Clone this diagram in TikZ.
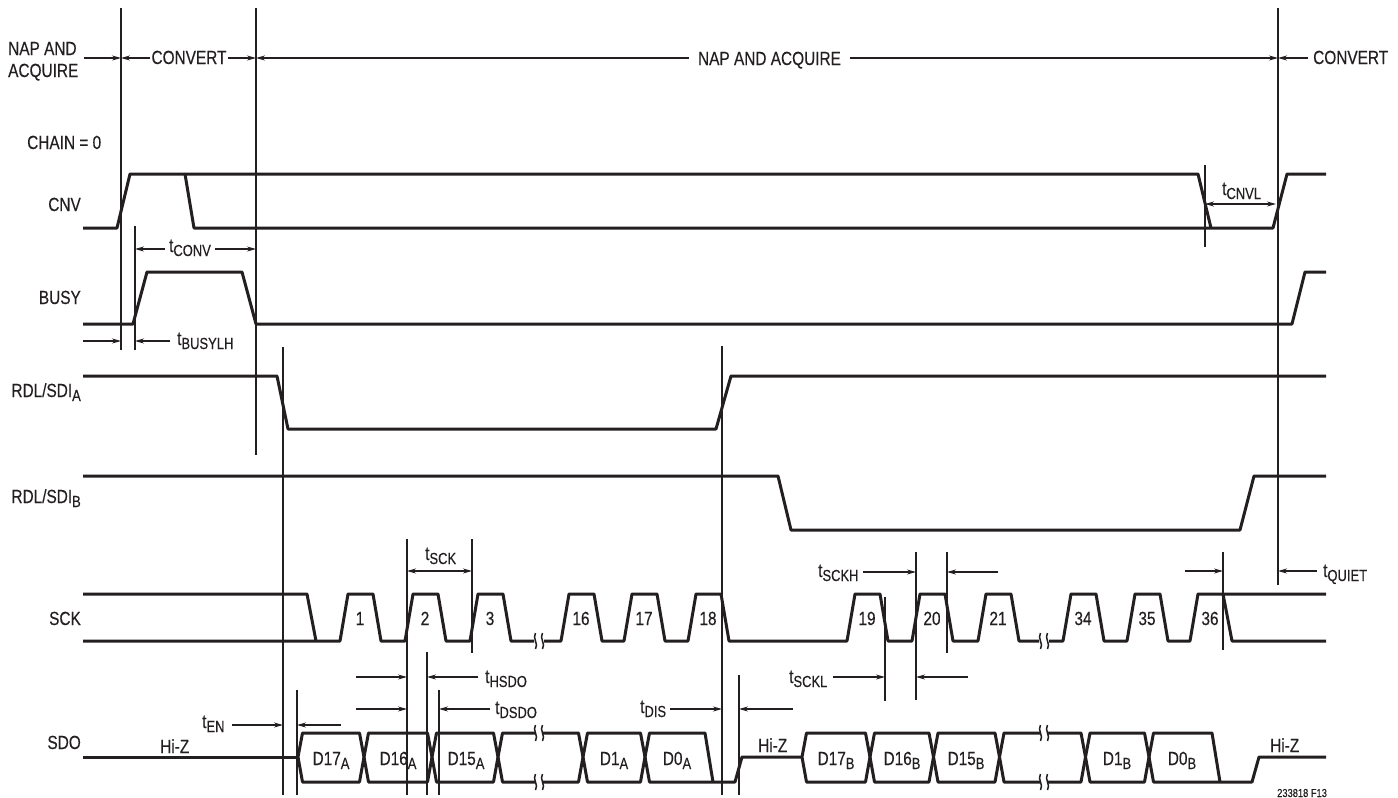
\documentclass[tikz,border=0pt]{standalone}
\usepackage{fontspec}
\setmainfont{Liberation Sans}[FakeStretch=0.81,FakeBold=0.3]
\usetikzlibrary{arrows.meta}
\definecolor{ink}{RGB}{35,31,32}
\newcommand\subfs{\fontsize{16}{16}\selectfont}
\newcommand\lsub[1]{\raisebox{-4pt}{\subfs #1}}
\newcommand\tsub[1]{t\lsub{#1}}
\begin{document}
\begin{tikzpicture}[x=1pt,y=-1pt,
  sig/.style={draw=ink,line width=3pt,line join=round},
  thin/.style={draw=ink,line width=1.1pt},
  dima/.style={thin,-{Stealth[length=9pt,width=5pt]}},
  dimb/.style={thin,{Stealth[length=9pt,width=5pt]}-{Stealth[length=9pt,width=5pt]}},
  lbl/.style={font=\fontsize{19}{22}\selectfont,text=ink,inner sep=0pt},
  brk/.pic={\draw[draw=ink,line width=1.5pt] (-3.5,-8) .. controls (-7,-3) and (0,3) .. (-3.5,8);
            \draw[draw=ink,line width=1.5pt] (3.5,-8) .. controls (0,-3) and (7,3) .. (3.5,8);}]
\fill[white] (0,0) rectangle (1398,798);
\useasboundingbox (0,0) rectangle (1398,798);

% ---------- phase header ----------
\draw[thin] (121,8) -- (121,350);
\draw[thin] (256,8) -- (256,455);
\draw[thin] (1278,8) -- (1278,585);
\node[lbl,anchor=base west] (napa) at (8,55) {NAP AND};
\node[lbl,anchor=base west] (acqa) at (8,77) {ACQUIRE};
\draw[dima] (84,58) -- (121,58);
\draw[dimb] (121,58) -- (256,58);
\node[lbl,anchor=base,fill=white,inner xsep=1.5pt] (conva) at (189,64) {CONVERT};
\draw[dimb] (256,58) -- (1278,58);
\node[lbl,anchor=base,fill=white,inner xsep=9pt] (napb) at (769.5,65) {NAP AND ACQUIRE};
\draw[dima] (1308,58) -- (1278,58);
\node[lbl,anchor=base west] (convb) at (1313,64) {CONVERT};

% ---------- CNV ----------
\node[lbl,anchor=base west] (chain) at (27,149) {CHAIN = 0};
\node[lbl,anchor=base east] (cnv) at (81,211) {CNV};
\draw[sig] (83,228) -- (117,228) -- (130,174) -- (1198,174) -- (1211,228);
\draw[sig] (185,174) -- (194,228) -- (1273,228) -- (1287,174) -- (1326,174);
\draw[thin] (1205,165) -- (1205,247);
\draw[dimb] (1205,204) -- (1276,204);
\node[lbl,anchor=base west] (tcnvl) at (1222,195) {\tsub{CNVL}};

% ---------- BUSY ----------
\node[lbl,anchor=base east] (busy) at (81,304) {BUSY};
\draw[sig] (83,324) -- (133,324) -- (147,272) -- (242,272) -- (256,324) -- (1292,324) -- (1305,272) -- (1326,272);
\draw[thin] (135,226) -- (135,350);
\draw[dimb] (135,249) -- (256,249);
\node[lbl,anchor=base,fill=white,inner xsep=4pt] (tconv) at (190,252) {\tsub{CONV}};
\draw[dima] (83,341) -- (121,341);
\draw[dima] (170,341) -- (135,341);
\node[lbl,anchor=base west] (tbusy) at (177,345) {\tsub{BUSYLH}};

% ---------- RDL/SDI ----------
\node[lbl,anchor=base east] (rdla) at (81,397) {RDL/SDI\lsub{A}};
\draw[sig] (83,376) -- (277,376) -- (288,429) -- (716,429) -- (731,376) -- (1326,376);
\node[lbl,anchor=base east] (rdlb) at (81,503) {RDL/SDI\lsub{B}};
\draw[sig] (83,476) -- (778,476) -- (791,530) -- (1240,530) -- (1254,476) -- (1326,476);

% ---------- SCK ----------
\node[lbl,anchor=base east] (sck) at (81,625) {SCK};
\draw[sig] (83,594) -- (307,594) -- (316,641);
\draw[sig] (83,641)
  -- (340,641) -- (348,594) -- (373,594) -- (381,641)
  -- (405,641) -- (413,594) -- (438,594) -- (446,641)
  -- (470,641) -- (478,594) -- (503,594) -- (511,641) -- (534,641);
\draw[sig] (544,641)
  -- (561,641) -- (569,594) -- (594,594) -- (602,641)
  -- (624,641) -- (632,594) -- (657,594) -- (665,641)
  -- (688,641) -- (696,594) -- (721,594) -- (729,641)
  -- (847,641) -- (855,594) -- (880,594) -- (888,641)
  -- (912,641) -- (920,594) -- (945,594) -- (953,641)
  -- (978,641) -- (986,594) -- (1011,594) -- (1019,641) -- (1039,641);
\draw[sig] (1049,641)
  -- (1063,641) -- (1071,594) -- (1096,594) -- (1104,641)
  -- (1127,641) -- (1135,594) -- (1160,594) -- (1168,641)
  -- (1190,641) -- (1198,594) -- (1326,594);
\draw[sig] (1223,594) -- (1232,641) -- (1326,641);
\pic at (539,641) {brk};
\pic at (1044,641) {brk};
\foreach \r/\n in {340/1,405/2,470/3,561/16,624/17,688/18,847/19,912/20,978/21,1063/34,1127/35,1190/36}
  \node[lbl,anchor=base] (p\n) at (\r+20,625) {\n};

% timing marks on SCK
\draw[thin] (407,539) -- (407,795);
\draw[thin] (472,539) -- (472,653);
\draw[dimb] (407,571) -- (472,571);
\node[lbl,anchor=base west] (tsck) at (425,560) {\tsub{SCK}};
\draw[thin] (916,552) -- (916,700);
\draw[thin] (947,552) -- (947,653);
\draw[dima] (863,572) -- (916,572);
\draw[dima] (998,572) -- (947,572);
\node[lbl,anchor=base west] (tsckh) at (818,577) {\tsub{SCKH}};
\draw[thin] (885,597) -- (885,701);
\draw[dima] (833,677) -- (885,677);
\draw[dima] (968,677) -- (916,677);
\node[lbl,anchor=base west] (tsckl) at (789,683) {\tsub{SCKL}};
\draw[thin] (1223,552) -- (1223,650);
\draw[dima] (1185,571) -- (1223,571);
\draw[dima] (1317,571) -- (1278,571);
\node[lbl,anchor=base west] (tquiet) at (1323,577) {\tsub{QUIET}};

% ---------- SDO timing marks ----------
\draw[thin] (283,347) -- (283,795);
\draw[thin] (297,690) -- (297,795);
\draw[dima] (232,725) -- (283,725);
\draw[dima] (341,725) -- (297,725);
\node[lbl,anchor=base west] (ten) at (202,728) {\tsub{EN}};
\draw[thin] (427,652) -- (427,795);
\draw[dima] (356,677) -- (407,677);
\draw[dima] (478,677) -- (427,677);
\node[lbl,anchor=base west] (thsdo) at (485,683) {\tsub{HSDO}};
\draw[thin] (439,690) -- (439,795);
\draw[dima] (356,709) -- (407,709);
\draw[dima] (490,709) -- (439,709);
\node[lbl,anchor=base west] (tdsdo) at (495,714) {\tsub{DSDO}};
\draw[thin] (722,346) -- (722,795);
\draw[thin] (739,675) -- (739,795);
\draw[dima] (670,709) -- (722,709);
\draw[dima] (793,709) -- (739,709);
\node[lbl,anchor=base west] (tdis) at (640,713) {\tsub{DIS}};

% ---------- SDO ----------
\node[lbl,anchor=base east] (sdo) at (81,749) {SDO};
\node[lbl,anchor=base west] (hiza) at (160,753) {Hi-Z};
\node[lbl,anchor=base west] (hizb) at (758,752) {Hi-Z};
\node[lbl,anchor=base west] (hizc) at (1270,752) {Hi-Z};
\draw[sig] (83,757) -- (298,757);
% word A
\draw[sig] (298,757) -- (302.5,733) -- (359.5,733) -- (364,757) -- (359.5,782) -- (302.5,782) -- cycle;
\draw[sig] (364,757) -- (368.5,733) -- (427.5,733) -- (432,757) -- (427.5,782) -- (368.5,782) -- cycle;
\draw[sig] (432,757) -- (436.5,733) -- (493.5,733) -- (498,757) -- (493.5,782) -- (436.5,782) -- cycle;
\draw[sig] (535,733) -- (502.5,733) -- (498,757) -- (502.5,782) -- (535,782);
\draw[sig] (543,733) -- (578.5,733) -- (583,757) -- (578.5,782) -- (543,782);
\pic at (539,733) {brk};
\pic at (539,782) {brk};
\draw[sig] (583,757) -- (587.5,733) -- (640.5,733) -- (645,757) -- (640.5,782) -- (587.5,782) -- cycle;
\draw[sig] (645,757) -- (649.5,733) -- (705,733) -- (713,782);
\draw[sig] (645,757) -- (649.5,782) -- (735,782) -- (742,757) -- (802,757);
% word B
\draw[sig] (802,757) -- (806.5,733) -- (865.5,733) -- (870,757) -- (865.5,782) -- (806.5,782) -- cycle;
\draw[sig] (870,757) -- (874.5,733) -- (929,733) -- (933.5,757) -- (929,782) -- (874.5,782) -- cycle;
\draw[sig] (933.5,757) -- (938,733) -- (995,733) -- (999.5,757) -- (995,782) -- (938,782) -- cycle;
\draw[sig] (1040,733) -- (1004,733) -- (999.5,757) -- (1004,782) -- (1040,782);
\draw[sig] (1048,733) -- (1081,733) -- (1085.5,757) -- (1081,782) -- (1048,782);
\pic at (1044,733) {brk};
\pic at (1044,782) {brk};
\draw[sig] (1085.5,757) -- (1090,733) -- (1144.5,733) -- (1149,757) -- (1144.5,782) -- (1090,782) -- cycle;
\draw[sig] (1149,757) -- (1153.5,733) -- (1212,733) -- (1220,782);
\draw[sig] (1149,757) -- (1153.5,782) -- (1252,782) -- (1259,757) -- (1326,757);
% data labels
\node[lbl,anchor=base] (d17a) at (331,765) {D17\lsub{A}};
\node[lbl,anchor=base] (d16a) at (398,765) {D16\lsub{A}};
\node[lbl,anchor=base] (d15a) at (466,765) {D15\lsub{A}};
\node[lbl,anchor=base] (d1a) at (614,765) {D1\lsub{A}};
\node[lbl,anchor=base] (d0a) at (677,765) {D0\lsub{A}};
\node[lbl,anchor=base] (d17b) at (836,765) {D17\lsub{B}};
\node[lbl,anchor=base] (d16b) at (902,765) {D16\lsub{B}};
\node[lbl,anchor=base] (d15b) at (966,765) {D15\lsub{B}};
\node[lbl,anchor=base] (d1b) at (1117,765) {D1\lsub{B}};
\node[lbl,anchor=base] (d0b) at (1182,765) {D0\lsub{B}};

\node[lbl,anchor=base west,font=\fontsize{11.5}{12}\selectfont] (fig) at (1277,797) {233818 F13};
\end{tikzpicture}
\end{document}
